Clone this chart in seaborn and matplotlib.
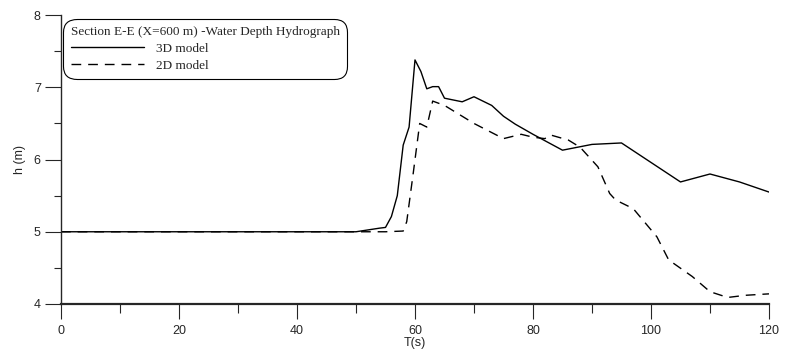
import pandas as pd
import seaborn as sns
import matplotlib.pyplot as plt
from matplotlib.ticker import MultipleLocator

# --- Datos ---
t_3d = [0, 50, 54, 55, 56, 57, 58, 59, 60, 61, 62, 63, 64, 65, 68, 70, 73, 75, 77,
        80, 85, 90, 95, 100, 105, 110, 115, 120]
h_3d = [5.0, 5.0, 5.05, 5.06, 5.21, 5.5, 6.2, 6.45, 7.38, 7.22, 6.98, 7.01, 7.01, 6.85,
        6.80, 6.87, 6.75, 6.60, 6.49, 6.35, 6.13, 6.21, 6.23, 5.96, 5.69, 5.80, 5.69, 5.55]

t_2d = [0, 55, 58, 58.6, 59.7, 60.8, 62, 63, 65, 68, 70, 75, 78, 80, 82, 83, 86, 88,
        91, 93, 94, 97, 101, 103, 107, 110, 113, 116, 120]
h_2d = [5.0, 5.0, 5.01, 5.14, 5.81, 6.50, 6.45, 6.81, 6.75, 6.60, 6.50, 6.29, 6.35, 6.31,
        6.29, 6.34, 6.27, 6.17, 5.90, 5.53, 5.44, 5.32, 4.93, 4.61, 4.38, 4.17, 4.09, 4.12, 4.14]

etiquetas = ["3D model", "2D model"]
titulo_leyenda = "Section E-E (X=600 m) -Water Depth Hydrograph"

df_3d = pd.DataFrame({"T": t_3d, "h": h_3d})
df_2d = pd.DataFrame({"T": t_2d, "h": h_2d})

sns.set_style("ticks")
plt.rcParams["font.family"] = ["Liberation Sans Narrow", "Liberation Sans", "DejaVu Sans"]

fig = plt.figure(figsize=(7.85, 3.61), dpi=100)
ax = fig.add_axes([0.0777, 0.158, 0.9019, 0.80])

sns.lineplot(data=df_3d, x="T", y="h", ax=ax, color="black", lw=1.0, label=etiquetas[0])
sns.lineplot(data=df_2d, x="T", y="h", ax=ax, color="black", lw=1.0, label=etiquetas[1],
             dashes=False)
ax.lines[1].set_dashes((7, 5))

ax.set_xlim(0, 120)
ax.set_ylim(4, 8)
ax.xaxis.set_major_locator(MultipleLocator(20))
ax.xaxis.set_minor_locator(MultipleLocator(10))
ax.yaxis.set_major_locator(MultipleLocator(1))
ax.yaxis.set_minor_locator(MultipleLocator(0.5))

sns.despine(ax=ax)
ax.spines["left"].set_linewidth(1.0)
ax.spines["bottom"].set_linewidth(1.6)

ax.tick_params(axis="x", which="major", length=11, width=0.8, pad=4, labelsize=9)
ax.tick_params(axis="x", which="minor", length=6.5, width=0.8)
ax.tick_params(axis="y", which="major", length=11.5, width=0.8, pad=3, labelsize=9)
ax.tick_params(axis="y", which="minor", length=5, width=0.8)

ax.set_xlabel("T(s)", fontsize=9, labelpad=0)
ax.set_ylabel("h (m)", fontsize=9, labelpad=6)

leg = ax.legend(loc="upper left", bbox_to_anchor=(-0.006, 1.01), title=titulo_leyenda,
                alignment="left", frameon=True, fancybox=True, framealpha=1,
                edgecolor="black", handlelength=5.6, borderpad=0.55,
                labelspacing=0.35, handletextpad=0.9,
                prop={"family": "Liberation Serif", "size": 9.5})
leg.get_title().set_fontfamily("Liberation Serif")
leg.get_title().set_fontsize(9.5)
leg.get_frame().set_linewidth(0.8)
leg.get_frame().set_boxstyle("round", pad=0, rounding_size=1.0)

fig.savefig("out.png", dpi=100)
